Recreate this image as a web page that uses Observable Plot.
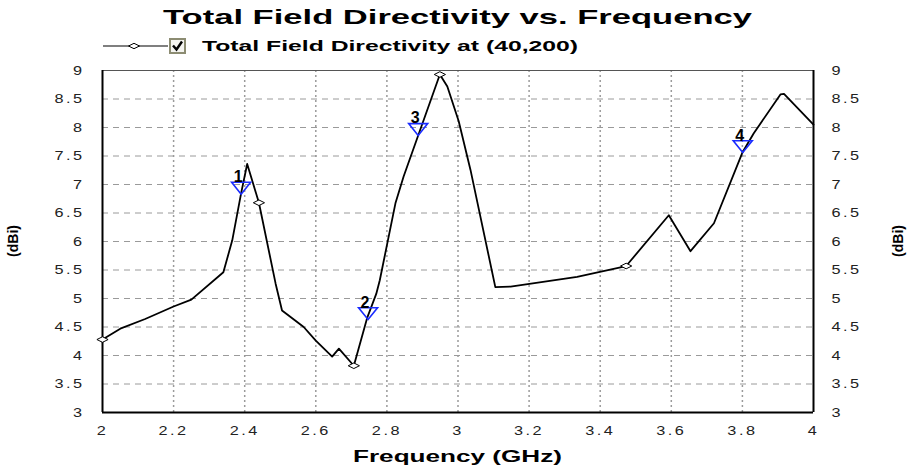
<!DOCTYPE html>
<html>
<head>
<meta charset="utf-8">
<script src="https://cdn.jsdelivr.net/npm/d3@7"></script>
<script src="https://cdn.jsdelivr.net/npm/@observablehq/plot@0.6"></script>
<style>
  html, body { margin: 0; padding: 0; background: #fff; }
  #chart svg { display: block; }
</style>
</head>
<body>
<div id="chart"></div>
<script>
// ---- data ----
const freq = [2.00, 2.05, 2.12, 2.20, 2.25, 2.34, 2.365, 2.39, 2.407, 2.44, 2.487, 2.505, 2.566, 2.60, 2.646, 2.665, 2.707, 2.745, 2.77, 2.78, 2.824, 2.847, 2.888, 2.949, 2.97, 3.002, 3.035, 3.105, 3.148, 3.335, 3.473, 3.593, 3.654, 3.72, 3.80, 3.832, 3.907, 3.917, 4.00];
const directivity = [4.28, 4.47, 4.64, 4.86, 4.98, 5.46, 6.02, 6.85, 7.36, 6.68, 5.26, 4.79, 4.50, 4.26, 3.98, 4.12, 3.82, 4.67, 5.08, 5.32, 6.67, 7.14, 7.86, 8.93, 8.72, 8.11, 7.26, 5.20, 5.21, 5.38, 5.57, 6.46, 5.83, 6.32, 7.56, 7.90, 8.58, 8.59, 8.05];
const diamondFreq = [2.00, 2.44, 2.707, 2.949, 3.473];
const diamondVal = [4.28, 6.68, 3.82, 8.93, 5.57];
const markerFreq = [2.39, 2.747, 2.888, 3.801];
const markerVal = [6.83, 4.63, 7.86, 7.56];
const markerLabel = ["1", "2", "3", "4"];
const xTicks = [2, 2.2, 2.4, 2.6, 2.8, 3, 3.2, 3.4, 3.6, 3.8, 4];
const yTicks = [3, 3.5, 4, 4.5, 5, 5.5, 6, 6.5, 7, 7.5, 8, 8.5, 9];
const titleText = "Total Field Directivity vs. Frequency";
const legendText = "Total Field Directivity at (40,200)";
const xLabel = "Frequency (GHz)";
const yLabel = "(dBi)";

const curve = freq.map((f, i) => ({f, v: directivity[i]}));
const diamonds = diamondFreq.map((f, i) => ({f, v: diamondVal[i]}));
const markers = markerFreq.map((f, i) => ({f, v: markerVal[i], label: markerLabel[i]}));

// custom symbols
const flatDiamond = {
  draw(ctx, size) {
    const r = Math.sqrt(size / Math.PI);
    ctx.moveTo(-r * 1.4, 0); ctx.lineTo(0, -r * 0.7); ctx.lineTo(r * 1.4, 0); ctx.lineTo(0, r * 0.7); ctx.closePath();
  }
};
const downTriangle = {
  draw(ctx, size) {
    const r = Math.sqrt(size / Math.PI);
    ctx.moveTo(-r, -1.25 * r); ctx.lineTo(r, -1.25 * r); ctx.lineTo(0, 0); ctx.closePath();
  }
};

const W = 916, H = 468;
const svg = Plot.plot({
  width: W, height: H,
  marginLeft: 102, marginRight: 103, marginTop: 70, marginBottom: 56,
  style: {fontFamily: "'Liberation Sans', Arial, sans-serif", background: "#fff", color: "#222"},
  x: {domain: [2, 4]},
  y: {domain: [3, 9]},
  marks: [
    Plot.gridY(yTicks.filter(d => d > 3 && d < 9), {stroke: "#9a9a9a", strokeOpacity: 1, strokeDasharray: "6,5"}),
    Plot.gridX(xTicks.filter(d => d > 2 && d < 4), {stroke: "#9a9a9a", strokeOpacity: 1, strokeDasharray: "2,3", strokeWidth: 1.5}),
    Plot.axisX(xTicks, {tickSize: 0, tickPadding: 13, label: null, fontSize: 13, tickFormat: d => String(+d.toFixed(1))}),
    Plot.axisY(yTicks, {anchor: "left", tickSize: 0, tickPadding: 18, label: null, fontSize: 13, tickFormat: d => String(+d.toFixed(1))}),
    Plot.axisY(yTicks, {anchor: "right", tickSize: 0, tickPadding: 18, label: null, fontSize: 13, tickFormat: d => String(+d.toFixed(1))}),
    Plot.ruleY([9], {stroke: "#555", strokeWidth: 1}),
    Plot.ruleY([3], {stroke: "#000", strokeWidth: 2}),
    Plot.ruleX([2], {stroke: "#000", strokeWidth: 2}),
    Plot.ruleX([4], {stroke: "#000", strokeWidth: 2}),
    Plot.line(curve, {x: "f", y: "v", stroke: "#000", strokeWidth: 1.8}),
    Plot.dot(diamonds, {x: "f", y: "v", symbol: flatDiamond, r: 4, fill: "#fff", stroke: "#000", strokeWidth: 1}),
    Plot.dot(markers, {x: "f", y: "v", symbol: downTriangle, r: 9.5, fill: "none", stroke: "#1a2cff", strokeWidth: 1.6}),
    Plot.text(markers, {x: "f", y: "v", text: "label", dx: -3, dy: -12, lineAnchor: "bottom", fontSize: 16, fontWeight: "bold", fill: "#000"})
  ]
});

// stretch tick labels horizontally like the reference
d3.select(svg).selectAll('g[aria-label$="tick label"] text').each(function() {
  const t = this.getAttribute("transform") || "";
  this.setAttribute("transform", t + " scale(1.25,1)");
  this.style.letterSpacing = "2px";
});

const s = d3.select(svg);
// title
s.append("text").attr("x", 163).attr("y", 24).attr("text-anchor", "start").attr("textLength", 589).attr("lengthAdjust", "spacingAndGlyphs")
  .attr("font-size", 21).attr("font-weight", "bold").attr("fill", "#000").text(titleText);
// legend
s.append("line").attr("x1", 103).attr("x2", 168).attr("y1", 46).attr("y2", 46).attr("stroke", "#000").attr("stroke-width", 1.2);
s.append("path").attr("d", "M128.5,46 L134,43.3 L139.5,46 L134,48.7 Z").attr("fill", "#fff").attr("stroke", "#000");
s.append("rect").attr("x", 170).attr("y", 39).attr("width", 15).attr("height", 14).attr("fill", "#f4f4f0").attr("stroke", "#8c8c72").attr("stroke-width", 2);
s.append("path").attr("d", "M173,45.5 L176.5,49.5 L182,41.5").attr("fill", "none").attr("stroke", "#000").attr("stroke-width", 2.4);
s.append("text").attr("x", 202).attr("y", 51).attr("text-anchor", "start").attr("textLength", 376).attr("lengthAdjust", "spacingAndGlyphs")
  .attr("font-size", 14).attr("font-weight", "bold").attr("fill", "#000").text(legendText);
// x label
s.append("text").attr("x", 353).attr("y", 462).attr("text-anchor", "start").attr("textLength", 209).attr("lengthAdjust", "spacingAndGlyphs")
  .attr("font-size", 17).attr("font-weight", "bold").attr("fill", "#000").text(xLabel);
// y labels
[18, 903].forEach(x => {
  s.append("text").attr("transform", `translate(${x},241) rotate(-90)`).attr("text-anchor", "middle")
    .attr("font-size", 14).attr("font-weight", "bold").attr("fill", "#000").text(yLabel);
});

document.getElementById("chart").appendChild(svg);
</script>
</body>
</html>
